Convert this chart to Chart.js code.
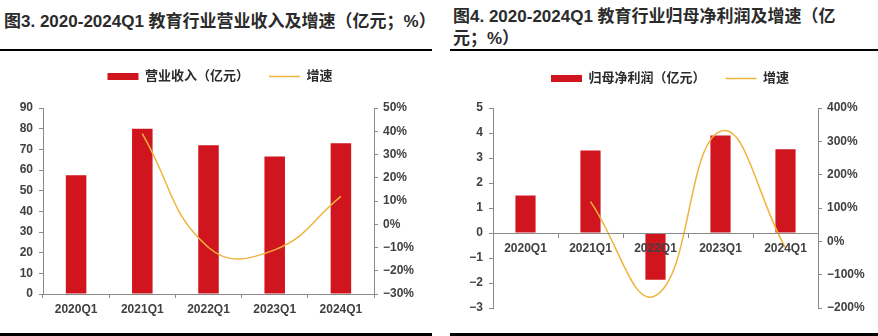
<!DOCTYPE html>
<html>
<head>
<meta charset="utf-8">
<script src="https://cdn.jsdelivr.net/npm/chart.js@4.4.1/dist/chart.umd.min.js"></script>
<style>
  body { margin: 0; background: #fff; width: 878px; height: 336px; overflow: hidden; position: relative; }
  .title { position: absolute; font: bold 17px "Liberation Sans", "Noto Sans CJK SC", sans-serif; color: #2b2b2b; line-height: 22px; white-space: nowrap; }
  .rule { position: absolute; background: #000; }
  canvas { position: absolute; }
</style>
</head>
<body>
<div class="title" style="left:4px; top:11px;">图3. 2020-2024Q1 教育行业营业收入及增速（亿元；%）</div>
<div class="title" style="left:453px; top:6px;">图4. 2020-2024Q1 教育行业归母净利润及增速（亿<br>元；%）</div>
<div class="rule" style="left:0; top:49px; width:432px; height:2px;"></div>
<div class="rule" style="left:450px; top:49px; width:428px; height:2px;"></div>
<div class="rule" style="left:0; top:333px; width:432px; height:3px;"></div>
<div class="rule" style="left:450px; top:333px; width:428px; height:3px;"></div>

<canvas id="revenueChart" width="440" height="280" style="left:0; top:50px;"></canvas>
<canvas id="profitChart" width="438" height="270" style="left:440px; top:52px;"></canvas>

<script>
// Data
const categories = ['2020Q1', '2021Q1', '2022Q1', '2023Q1', '2024Q1'];
const revenueValues = [57.5, 80, 72, 66.5, 73];      // 亿元
const revenueGrowth = [null, 39, -10, -11, 12];      // %
const profitValues = [1.5, 3.3, -1.87, 3.9, 3.35];   // 亿元
const profitGrowth = [null, 119, -163, 330, -20];    // %

// Axis ranges [min, max, step]
const revenueAxis = [0, 90, 10];
const revenuePctAxis = [-30, 50, 10];
const profitAxis = [-3, 5, 1];
const profitPctAxis = [-200, 400, 100];

const barColor = '#D0151E';
const lineColor = '#EFB43C';
const axisColor = '#8a8a8a';

Chart.defaults.font.family = '"Liberation Sans", "Noto Sans CJK SC", sans-serif';
Chart.defaults.font.weight = 'bold';
Chart.defaults.font.size = 12;
Chart.defaults.color = '#404040';

function minus(v) {
  return v < 0 ? '\u2212' + Math.abs(v) : String(v);
}

// adds some space under the legend
function legendGap(extra) {
  return {
    id: 'legendGap',
    beforeLayout(chart) {
      const legend = chart.legend;
      if (legend && !legend._gapDone) {
        const fit = legend.fit;
        legend.fit = function () {
          fit.call(this);
          this.height += extra;
        };
        legend._gapDone = true;
      }
    }
  };
}

function createComboChart(canvasId, cfg) {
  const ctx = document.getElementById(canvasId).getContext('2d');
  const canvasWidth = ctx.canvas.width;
  const xScale = {
    offset: true,
    grid: { display: true, offset: true, drawOnChartArea: false, tickLength: 4, color: axisColor, z: 1 },
    border: { color: axisColor, z: 1 },
    ticks: { padding: 4, maxRotation: 0, z: 1 },
  };
  if (cfg.xAtZero) {
    xScale.position = { y: 0 };
  } else {
    xScale.afterFit = (s) => { s.height = cfg.xHeight; };
  }

  new Chart(ctx, {
    type: 'bar',
    data: {
      labels: categories,
      datasets: [
        {
          type: 'bar',
          label: cfg.barLabel,
          data: cfg.bars,
          backgroundColor: barColor,
          borderWidth: 0,
          barPercentage: 0.31,
          categoryPercentage: 1.0,
          pointStyle: 'rect',
          yAxisID: 'y',
          order: 1,
        },
        {
          type: 'line',
          label: '增速',
          data: cfg.growth,
          borderColor: lineColor,
          backgroundColor: lineColor,
          borderWidth: 1.5,
          pointRadius: 0,
          pointStyle: 'line',
          tension: 0.45,
          yAxisID: 'y2',
          order: 0,
        },
      ],
    },
    options: {
      responsive: false,
      animation: false,
      layout: { padding: cfg.padding },
      plugins: {
        tooltip: { enabled: false },
        legend: {
          position: 'top',
          labels: {
            usePointStyle: true,
            pointStyleWidth: 31,
            boxHeight: 7,
            padding: 20,
            color: '#2b2b2b',
            font: { size: 13, weight: 'bold' },
            sort: (a, b) => a.datasetIndex - b.datasetIndex,
          },
        },
      },
      scales: {
        x: xScale,
        y: {
          position: 'left',
          min: cfg.leftAxis[0],
          max: cfg.leftAxis[1],
          grid: { drawOnChartArea: false, tickLength: 4, color: axisColor },
          border: { color: axisColor },
          ticks: { stepSize: cfg.leftAxis[2], padding: 6, callback: (v) => minus(v) },
          afterFit: (s) => { s.width = cfg.leftWidth; },
        },
        y2: {
          position: 'right',
          min: cfg.rightAxis[0],
          max: cfg.rightAxis[1],
          grid: { drawOnChartArea: false, tickLength: 4, color: axisColor },
          border: { color: axisColor },
          ticks: { stepSize: cfg.rightAxis[2], padding: 5, callback: (v) => minus(v) + '%' },
          afterFit: (s) => { s.width = canvasWidth - cfg.plotRight; },
        },
      },
    },
    plugins: [legendGap(cfg.legendExtra)],
  });
}

window.onload = function () {
  // 图3 营业收入
  createComboChart('revenueChart', {
    barLabel: '营业收入（亿元）',
    bars: revenueValues,
    growth: revenueGrowth,
    leftAxis: revenueAxis,
    rightAxis: revenuePctAxis,
    padding: { left: 0, right: 0, top: 0, bottom: 0 },
    leftWidth: 43,
    plotRight: 374,
    xHeight: 36,
    legendExtra: 15,
    xAtZero: false,
  });

  // 图4 归母净利润
  createComboChart('profitChart', {
    barLabel: '归母净利润（亿元）',
    bars: profitValues,
    growth: profitGrowth,
    leftAxis: profitAxis,
    rightAxis: profitPctAxis,
    padding: { left: 22, right: 0, top: 0, bottom: 14 },
    leftWidth: 31,
    plotRight: 378,
    legendExtra: 13,
    xAtZero: true,
  });
};
</script>
</body>
</html>
